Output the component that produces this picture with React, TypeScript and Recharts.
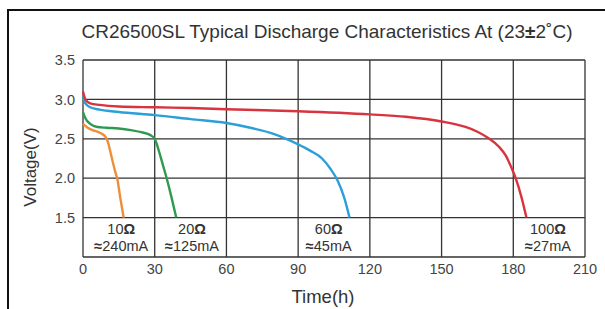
import React from 'react';
import { LineChart, Line, XAxis, YAxis, CartesianGrid, Scatter } from 'recharts';

// Discharge curves: [time (h), voltage (V)]
const ohm10: [number, number][] = [
  [0, 2.69], [2, 2.64], [4, 2.61], [6, 2.59], [8, 2.56], [9.5, 2.52], [10.5, 2.45],
  [11.5, 2.33], [12.5, 2.2], [13.5, 2.08], [14.3, 2.0], [15.6, 1.75], [17, 1.5],
];
const ohm20: [number, number][] = [
  [0, 2.84], [1, 2.76], [3, 2.69], [6, 2.65], [10, 2.64], [15, 2.63], [20, 2.61],
  [25, 2.58], [28, 2.55], [30, 2.5], [31, 2.42], [32, 2.32], [33.5, 2.16], [35, 2.0],
  [37, 1.76], [39, 1.5],
];
const ohm60: [number, number][] = [
  [0, 3.04], [1, 2.95], [3, 2.9], [7, 2.87], [15, 2.84], [30, 2.8], [45, 2.75],
  [60, 2.7], [70, 2.64], [80, 2.56], [85, 2.5], [90, 2.43], [95, 2.35], [100, 2.25],
  [103.5, 2.12], [106.5, 1.97], [109.3, 1.75], [111.5, 1.5],
];
const ohm100: [number, number][] = [
  [0, 3.1], [1, 3.0], [3, 2.95], [7, 2.93], [15, 2.91], [30, 2.9], [45, 2.89],
  [60, 2.875], [90, 2.85], [120, 2.81], [135, 2.78], [150, 2.72], [160, 2.65],
  [165, 2.59], [170, 2.5], [174, 2.4], [177, 2.28], [179, 2.15], [181, 2.0],
  [183.5, 1.75], [185.5, 1.5],
];

// Load annotations: x position (h), resistance, approx current
const notesT = [16, 45.6, 102.8, 194.5];
const notesOhm = ['10', '20', '60', '100'];
const notesMA = ['240', '125', '45', '27'];
const notesV = 1.26;

const xTicks = [0, 30, 60, 90, 120, 150, 180, 210];
const yTicks = [1.0, 1.5, 2.0, 2.5, 3.0, 3.5];

const toRows = (pts: [number, number][]) => pts.map(([t, v]) => ({ t, v }));
const notes = notesT.map((t, i) => ({ t, v: notesV, ohm: notesOhm[i], ma: notesMA[i] }));

const font = '"Liberation Sans", Arial, sans-serif';

const NoteShape = (props: any) => {
  const { cx, cy, payload } = props;
  return (
    <g>
      <text x={cx} y={cy - 8} textAnchor="middle" dominantBaseline="central" fontSize={14.5} fill="#333" fontFamily={font}>
        {payload.ohm}
        <tspan fontWeight="bold">Ω</tspan>
      </text>
      <text x={cx} y={cy + 9} textAnchor="middle" dominantBaseline="central" fontSize={14.5} fill="#333" fontFamily={font}>
        <tspan fontWeight="bold">≈</tspan>
        {payload.ma}mA
      </text>
    </g>
  );
};

export default function App() {
  return (
    <div style={{ position: 'absolute', left: 0, top: 0, width: 605, height: 309, background: '#fff', overflow: 'hidden' }}>
      <div style={{ position: 'absolute', left: 7, top: 9, width: 600, height: 302, borderLeft: '2.5px solid #111', borderTop: '2.5px solid #111' }} />
      <LineChart width={605} height={309} margin={{ top: 60, right: 20, bottom: 22, left: 0 }}>
        <CartesianGrid stroke="#333" strokeWidth={1.3} />
        <XAxis
          dataKey="t"
          type="number"
          domain={[0, 210]}
          ticks={xTicks}
          axisLine={false}
          tickLine={false}
          tickSize={0}
          tickMargin={7}
          height={30}
          tick={{ fontSize: 14.5, fill: '#444', fontFamily: font }}
          allowDuplicatedCategory={false}
        />
        <YAxis
          dataKey="v"
          type="number"
          domain={[1, 3.5]}
          ticks={yTicks}
          axisLine={false}
          tickLine={false}
          tickSize={0}
          tickMargin={8}
          width={83}
          tickFormatter={(v: number) => (v === 1 ? '' : v.toFixed(1))}
          tick={{ fontSize: 14.5, fill: '#444', fontFamily: font }}
        />
        <Line data={toRows(ohm10)} dataKey="v" type="monotone" stroke="#ef8e3a" strokeWidth={2.4} dot={false} isAnimationActive={false} />
        <Line data={toRows(ohm20)} dataKey="v" type="monotone" stroke="#2e9a50" strokeWidth={2.4} dot={false} isAnimationActive={false} />
        <Line data={toRows(ohm60)} dataKey="v" type="monotone" stroke="#2c9fd9" strokeWidth={2.4} dot={false} isAnimationActive={false} />
        <Line data={toRows(ohm100)} dataKey="v" type="monotone" stroke="#d8343f" strokeWidth={2.4} dot={false} isAnimationActive={false} />
        <Scatter data={notes} dataKey="v" shape={<NoteShape />} isAnimationActive={false} />
      </LineChart>
      <svg width={605} height={309} style={{ position: 'absolute', left: 0, top: 0, pointerEvents: 'none' }}>
        <text x={327} y={31} textAnchor="middle" dominantBaseline="central" fontSize={19} fill="#333" fontFamily={font}>
          CR26500SL Typical Discharge Characteristics At (23<tspan fontWeight="bold">±</tspan>2˚C)
        </text>
        <text x={30} y={167} transform="rotate(-90 30 167)" textAnchor="middle" dominantBaseline="central" fontSize={17} fill="#333" fontFamily={font}>
          Voltage(V)
        </text>
        <text x={323} y={296} textAnchor="middle" dominantBaseline="central" fontSize={18.5} fill="#333" fontFamily={font}>
          Time(h)
        </text>
      </svg>
    </div>
  );
}
